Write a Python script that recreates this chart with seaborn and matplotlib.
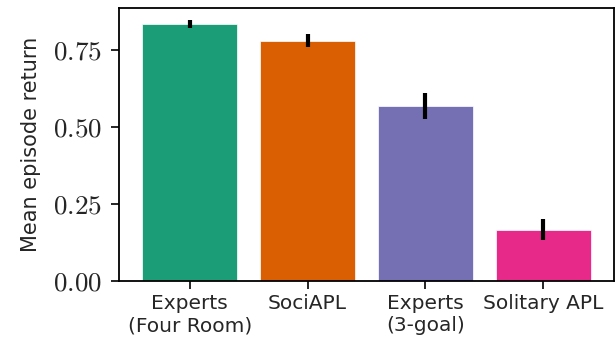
import numpy as np
import pandas as pd
import matplotlib
import matplotlib.pyplot as plt
import seaborn as sns
from matplotlib.ticker import FuncFormatter

matplotlib.use("Agg")

methods = ["Experts\n(Four Room)", "SociAPL", "Experts\n(3-goal)", "Solitary APL"]
mean_return = [0.834, 0.779, 0.568, 0.166]
err_return = [0.012, 0.021, 0.042, 0.034]
colors = ["#1b9e77", "#d95f02", "#7570b3", "#e7298a"]

sns.set_style("ticks")
plt.rcParams["font.family"] = ["DejaVu Sans"]
plt.rcParams["mathtext.fontset"] = "cm"

df = pd.DataFrame({"method": methods, "ret": mean_return})

fig = plt.figure(figsize=(6.16, 3.46), dpi=100)
ax = fig.add_axes([0.193, 0.188, 0.804, 0.789])

sns.barplot(data=df, x="method", y="ret", hue="method", palette=colors,
            saturation=1, errorbar=None, width=0.8, edgecolor="white",
            linewidth=0.5, legend=False, ax=ax)
ax.errorbar(x=np.arange(len(methods)), y=mean_return, yerr=err_return,
            fmt="none", ecolor="black", elinewidth=3, capsize=0)

ax.set_xlim(-0.6, 3.6)
ax.set_ylim(0, 0.886)
ax.set_yticks([0, 0.25, 0.5, 0.75])
ax.yaxis.set_major_formatter(FuncFormatter(lambda v, p: r"$%.2f$" % v))
ax.set_xlabel("")
ax.set_ylabel("Mean episode return", fontsize=15, labelpad=9)
ax.tick_params(axis="y", labelsize=19.5, length=6, width=1.2, pad=6, color="black")
ax.tick_params(axis="x", labelsize=14.5, length=6, width=1.2, color="black")
for s in ax.spines.values():
    s.set_visible(True)
    s.set_color("black")
    s.set_linewidth(1.3)

fig.savefig("out.png", dpi=100)
